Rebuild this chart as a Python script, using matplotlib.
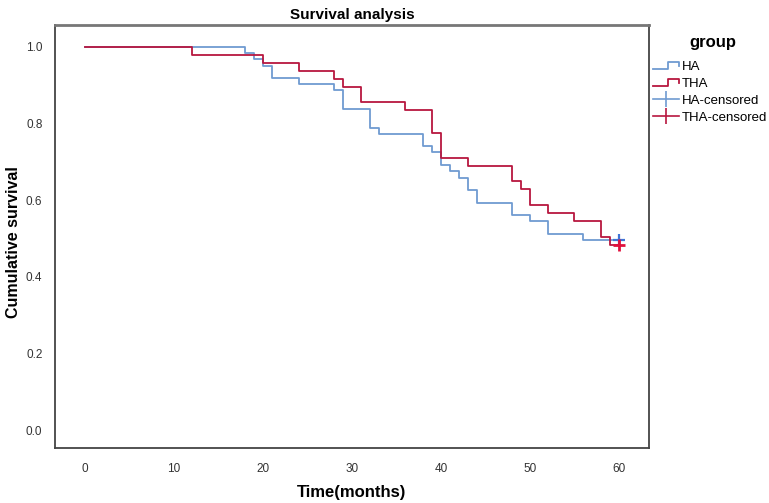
import numpy as np
import matplotlib
matplotlib.use("Agg")
import matplotlib.pyplot as plt
from matplotlib.lines import Line2D
from matplotlib.legend_handler import HandlerBase

plt.rcParams['font.family'] = ['Liberation Sans', 'DejaVu Sans']

# Kaplan-Meier steps (time of drop, survival after drop)
ha_time = [0, 18, 19, 20, 21, 24, 28, 29, 32, 33, 38, 39, 40, 41, 42, 43, 44, 48, 50, 52, 56, 60]
ha_surv = [1.0, 0.983, 0.967, 0.951, 0.918, 0.902, 0.887, 0.838, 0.789, 0.773, 0.741, 0.725,
           0.692, 0.675, 0.659, 0.627, 0.593, 0.561, 0.545, 0.512, 0.496, 0.496]
tha_time = [0, 12, 20, 24, 28, 29, 31, 36, 39, 40, 43, 48, 49, 50, 52, 55, 58, 59, 60]
tha_surv = [1.0, 0.980, 0.959, 0.938, 0.917, 0.896, 0.855, 0.836, 0.774, 0.710, 0.690,
            0.649, 0.628, 0.587, 0.566, 0.546, 0.504, 0.484, 0.484]
# censored observations
ha_cens_t = [60]
ha_cens_s = [0.496]
tha_cens_t = [60]
tha_cens_s = [0.484]

blue = "#6f9bd1"
red = "#b8173f"

fig = plt.figure(figsize=(7.69, 5.03), dpi=100)
ax = fig.add_axes([0.0715, 0.1093, 0.7725, 0.8410])

ax.step(ha_time, ha_surv, where="post", color=blue, lw=1.3)
ax.step(tha_time, tha_surv, where="post", color=red, lw=1.3)
ax.plot(ha_cens_t, ha_cens_s, ls="none", marker="+", ms=9, mew=1.6, color="#3f74d6")
ax.plot(tha_cens_t, tha_cens_s, ls="none", marker="+", ms=9, mew=2.0, color="#e0103c")

ax.set_xlim(-3.4, 63.4)
ax.set_ylim(-0.047, 1.057)
ax.set_xticks(np.arange(0, 61, 10))
ax.set_yticks(np.arange(0, 1.01, 0.2))
ax.set_yticklabels(["0.0", "0.2", "0.4", "0.6", "0.8", "1.0"])
ax.tick_params(length=0, labelsize=8.5, colors="#333333")
ax.tick_params(axis="x", pad=11)
ax.tick_params(axis="y", pad=9)

for s in ax.spines.values():
    s.set_color("#444444")
    s.set_linewidth(1.3)
ax.spines["top"].set_color("#777777")
ax.spines["top"].set_linewidth(2)

ax.set_title("Survival analysis", fontsize=11, fontweight="bold", pad=4)
fig.text(352 / 769, 1 - 492 / 503, "Time(months)", fontsize=12, fontweight="bold",
         ha="center", va="center")
fig.text(14 / 769, 1 - 242 / 503, "Cumulative survival", fontsize=11.5, fontweight="bold",
         ha="center", va="center", rotation=90)


class HandlerStep(HandlerBase):
    def create_artists(self, legend, orig_handle, xdescent, ydescent,
                       width, height, fontsize, trans):
        x0 = -xdescent
        xs = [x0, x0 + 0.55 * width, x0 + 0.55 * width, x0 + width, x0 + width]
        ys = [0.15 * height, 0.15 * height, 0.85 * height, 0.85 * height, 0.45 * height]
        ln = Line2D(xs, ys, color=orig_handle.get_color(), lw=1.3, transform=trans)
        return [ln]


h_ha = Line2D([], [], color=blue)
h_tha = Line2D([], [], color=red)
h_hac = Line2D([0], [0], color=blue, lw=1.2, marker="|", ms=11, mew=1.2)
h_thac = Line2D([0], [0], color=red, lw=1.2, marker="|", ms=11, mew=1.2)

fig.text(713 / 769, 1 - 42 / 503, "group", fontsize=12, fontweight="bold",
         ha="center", va="center")
leg = fig.legend([h_ha, h_tha, h_hac, h_thac], ["HA", "THA", "HA-censored", "THA-censored"],
                 loc="upper left", bbox_to_anchor=(653 / 769, 1 - 61 / 503),
                 frameon=False, fontsize=9.5, handlelength=2.0, handletextpad=0.2,
                 labelspacing=0.35, borderaxespad=0, borderpad=0,
                 handler_map={h_ha: HandlerStep(), h_tha: HandlerStep()})

fig.savefig("out.png", dpi=100)
